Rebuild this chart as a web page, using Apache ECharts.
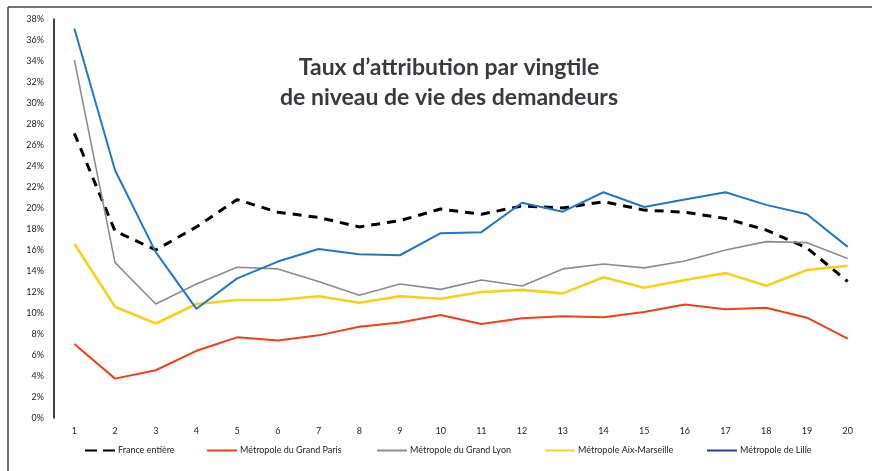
<!DOCTYPE html>
<html>
<head>
<meta charset="utf-8">
<script src="https://cdn.jsdelivr.net/npm/echarts@6/dist/echarts.min.js"></script>
<style>
  html, body { margin: 0; padding: 0; background: #fff; }
  #chart { width: 872px; height: 471px; }
</style>
</head>
<body>
<div id="chart"></div>
<script>
// Vingtiles de niveau de vie (1 à 20)
const vingtiles = ['1','2','3','4','5','6','7','8','9','10','11','12','13','14','15','16','17','18','19','20'];

// Taux d'attribution (%) par vingtile
const franceEntiere = [27.1, 17.8, 16.0, 18.2, 20.8, 19.6, 19.1, 18.2, 18.8, 19.9, 19.4, 20.2, 20.0, 20.6, 19.8, 19.6, 19.0, 17.9, 16.2, 13.0];
const grandParis    = [7.05, 3.75, 4.55, 6.4, 7.68, 7.37, 7.87, 8.7, 9.1, 9.8, 8.95, 9.5, 9.7, 9.6, 10.1, 10.8, 10.35, 10.5, 9.55, 7.55];
const grandLyon     = [34.1, 14.8, 10.86, 12.76, 14.35, 14.2, 13.0, 11.7, 12.76, 12.25, 13.14, 12.57, 14.2, 14.67, 14.3, 14.95, 16.0, 16.8, 16.7, 15.2];
const aixMarseille  = [16.6, 10.6, 9.0, 10.86, 11.24, 11.24, 11.6, 10.98, 11.6, 11.36, 12.0, 12.2, 11.87, 13.4, 12.4, 13.14, 13.8, 12.6, 14.1, 14.5];
const lille         = [37.1, 23.6, 15.8, 10.4, 13.3, 14.9, 16.1, 15.6, 15.5, 17.6, 17.7, 20.5, 19.65, 21.5, 20.1, 20.8, 21.5, 20.3, 19.4, 16.3];

const seriesNames = ['France entière', 'Métropole du Grand Paris', 'Métropole du Grand Lyon', 'Métropole Aix-Marseille', 'Métropole de Lille'];
const titleLines = ['Taux d\u2019attribution par vingtile', 'de niveau de vie des demandeurs'];

const chart = echarts.init(document.getElementById('chart'), null, { renderer: 'canvas' });

const labelFont = 'Lato, "Open Sans", sans-serif';

function line(name, data, color, width, type) {
  return {
    name: name,
    type: 'line',
    data: data,
    symbol: 'none',
    smooth: false,
    lineStyle: { color: color, width: width, type: type || 'solid' },
    itemStyle: { color: color },
    z: 3
  };
}

// Legend icons: a dashed pair for the national line, a plain bar for the others
const dashIcon = 'path://M0,4 L12,4 L12,6 L0,6 Z M18,4 L30,4 L30,6 L18,6 Z';
const barIcon = 'path://M0,4 L30,4 L30,6 L0,6 Z';
const legendLefts = [85, 207, 377, 545, 707];
const legendColors = ['#000000', '#f0401a', '#8c8c8c', '#f9d11c', '#23418f'];

const legends = seriesNames.map(function (name, i) {
  return {
    left: legendLefts[i],
    bottom: 16,
    itemWidth: 30,
    itemHeight: 10,
    padding: 0,
    selectedMode: false,
    textStyle: { color: '#222', fontSize: 9, fontFamily: labelFont, padding: [0, 0, 0, -2] },
    data: [{ name: name, icon: i === 0 ? dashIcon : barIcon, itemStyle: { color: legendColors[i] } }]
  };
});

chart.setOption({
  animation: false,
  backgroundColor: '#ffffff',
  title: {
    text: titleLines.join('\n'),
    left: 444,
    top: 48,
    textAlign: 'center',
    textStyle: {
      fontFamily: labelFont,
      fontWeight: 'bold',
      fontSize: 23,
      lineHeight: 30,
      color: '#3a3a3e'
    }
  },
  grid: { left: 54, right: 4, top: 19, bottom: 53, containLabel: false },
  xAxis: {
    type: 'category',
    data: vingtiles,
    boundaryGap: true,
    axisLine: { show: false },
    axisTick: { show: false },
    axisLabel: { color: '#222', fontSize: 9, fontFamily: labelFont, margin: 9 },
    splitLine: { show: false }
  },
  yAxis: {
    type: 'value',
    min: 0,
    max: 38,
    interval: 2,
    axisLine: { show: true, lineStyle: { color: '#000', width: 1.5 } },
    axisTick: { show: false },
    splitLine: { show: false },
    axisLabel: { formatter: '{value}%', color: '#222', fontSize: 9, fontFamily: labelFont, margin: 10 }
  },
  legend: legends,
  graphic: [
    { type: 'line', shape: { x1: 8, y1: 7, x2: 872, y2: 7 }, style: { stroke: '#444', lineWidth: 1.5 }, silent: true },
    { type: 'line', shape: { x1: 8, y1: 7, x2: 8, y2: 471 }, style: { stroke: '#444', lineWidth: 1.5 }, silent: true }
  ],
  series: [
    line(seriesNames[0], franceEntiere, '#000000', 3, [9, 7]),
    line(seriesNames[1], grandParis, '#f0401a', 2),
    line(seriesNames[2], grandLyon, '#8c8c8c', 1.6),
    line(seriesNames[3], aixMarseille, '#f9d11c', 2.6),
    line(seriesNames[4], lille, '#2476c6', 2)
  ]
});
</script>
</body>
</html>
